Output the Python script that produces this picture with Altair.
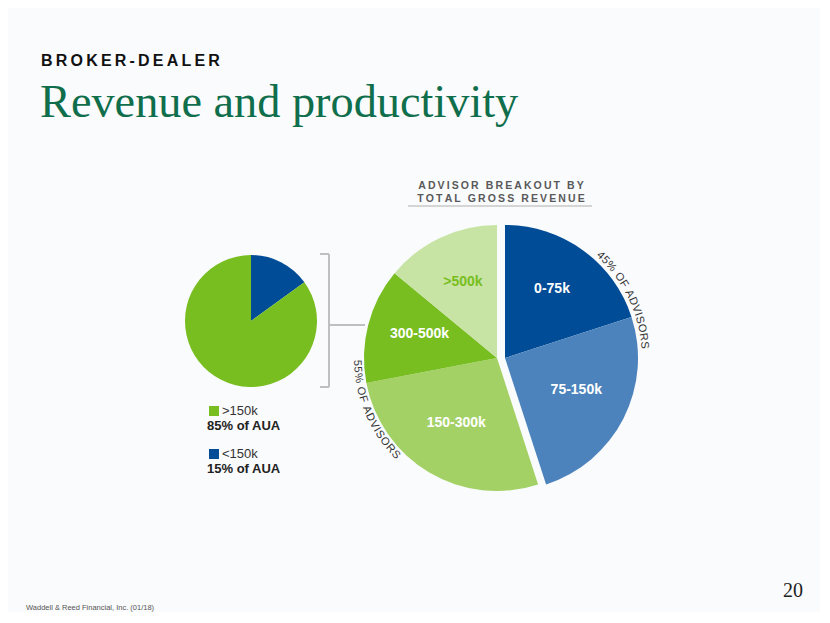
import math
import altair as alt
import pandas as pd

# ---------------- data ----------------
segments = ["0-75k", "75-150k", "150-300k", "300-500k", ">500k"]
advisor_share = [20, 25, 27, 14, 14]
revenue_group = ["<150k", "<150k", ">150k", ">150k", ">150k"]

aua_groups = ["<150k", ">150k"]
aua_share = [15, 85]

# ---------------- styles ----------------
seg_colors = ["#004C97", "#4C83BC", "#A3D165", "#78BE20", "#C8E4A5"]
aua_colors = ["#004C97", "#78BE20"]
SANS = "Liberation Sans"
SERIF = "Liberation Serif"
OX, OY = 8, 8


def px(x):
    return x - OX


def py(y):
    return y - OY


one = alt.Data(values=[{"k": 0}])


def label(text, x, y, size, weight="normal", color="#333333", font=SANS,
          align="left", baseline="middle"):
    return alt.Chart(one).mark_text(
        text=text, font=font, fontSize=size, fontWeight=weight, color=color,
        align=align, baseline=baseline
    ).encode(x=alt.value(px(x)), y=alt.value(py(y)))


def line(x1, y1, x2, y2, color="#BFBFBF", width=2):
    return alt.Chart(one).mark_rule(color=color, strokeWidth=width).encode(
        x=alt.value(px(x1)), y=alt.value(py(y1)),
        x2=alt.value(px(x2)), y2=alt.value(py(y2)))


def spaced(s):
    return "\u2009".join(list(s))


def stacked(df):
    return alt.Chart(df).transform_window(
        cum="sum(share)", sort=[alt.SortField("order")], frame=[None, 0]
    ).transform_joinaggregate(total="sum(share)").transform_calculate(
        t0="(datum.cum - datum.share) / datum.total * 2 * PI",
        t1="datum.cum / datum.total * 2 * PI",
        tm="(datum.cum - datum.share / 2) / datum.total * 2 * PI",
    )


seg_df = pd.DataFrame({"segment": segments, "share": advisor_share,
                       "group": revenue_group, "order": list(range(len(segments)))})
aua_df = pd.DataFrame({"group": aua_groups, "share": aua_share, "order": [0, 1]})

seg_color = alt.Color("segment:N", scale=alt.Scale(domain=segments, range=seg_colors), legend=None)

R_BIG = 133
layers = []
centers = {"<150k": (505, 358), ">150k": (497, 358)}
for grp, (cx, cy) in centers.items():
    base = stacked(seg_df).transform_filter(alt.datum.group == grp)
    layers.append(base.mark_arc(radius=R_BIG).encode(
        theta=alt.Theta("t0:Q", scale=None, stack=False), theta2="t1:Q",
        color=seg_color, x=alt.value(px(cx)), y=alt.value(py(cy))))
    layers.append(base.mark_text(radius=80, dy=-4, font=SANS, fontSize=14, fontWeight="bold",
                                 align="center", baseline="middle").encode(
        theta=alt.Theta("tm:Q", scale=None, stack=False),
        text="segment:N",
        color=alt.condition(alt.datum.segment == ">500k", alt.value("#78BE20"), alt.value("white")),
        x=alt.value(px(cx)), y=alt.value(py(cy))))

# curved group labels
CW = {"0": .556, "1": .556, "2": .556, "3": .556, "4": .556, "5": .556, "6": .556,
      "7": .556, "8": .556, "9": .556, "%": .889, " ": .278, "O": .778, "F": .611,
      "A": .667, "D": .722, "V": .667, "I": .278, "S": .667, "R": .722}


def arc_chars(text, start_deg, direction, r, size, spacing):
    rows = []
    pos = 0.0
    centers_ = []
    for i, ch in enumerate(text):
        w = CW.get(ch, .6) * size
        centers_.append(pos + w / 2)
        pos += w + spacing
    for ch, c in zip(text, centers_):
        deg = start_deg + direction * math.degrees((c - centers_[0]) / r)
        rot = deg if direction > 0 else deg - 180
        rows.append({"ch": ch, "t": math.radians(deg), "rot": rot})
    return pd.DataFrame(rows)


blue_pct = sum(s for s, g in zip(advisor_share, revenue_group) if g == "<150k")
green_pct = sum(s for s, g in zip(advisor_share, revenue_group) if g == ">150k")
curved = [
    (f"{blue_pct}% OF ADVISORS", 43, 1, centers["<150k"]),
    (f"{green_pct}% OF ADVISORS", 268, -1, centers[">150k"]),
]
for text, start, d, (cx, cy) in curved:
    df = arc_chars(text, start, d, 140, 11, 0.6)
    layers.append(alt.Chart(df).mark_text(radius=140, font=SANS, fontSize=11, color="#333333",
                                           align="center", baseline="middle").encode(
        text="ch:N", theta=alt.Theta("t:Q", scale=None, stack=False),
        angle=alt.Angle("rot:Q", scale=None),
        x=alt.value(px(cx)), y=alt.value(py(cy))))

# small AUA pie
aua_base = stacked(aua_df)
layers.append(aua_base.mark_arc(radius=66).encode(
    theta=alt.Theta("t0:Q", scale=None, stack=False), theta2="t1:Q",
    color=alt.Color("group:N", scale=alt.Scale(domain=aua_groups, range=aua_colors), legend=None),
    x=alt.value(px(251)), y=alt.value(py(321))))

# bracket
layers += [
    line(329, 254, 329, 387),
    line(320, 254, 329, 254),
    line(320, 387, 329, 387),
    line(329, 325, 365, 325),
]

# legend
for i, (grp, share, col) in enumerate([(aua_groups[1], aua_share[1], aua_colors[1]),
                                        (aua_groups[0], aua_share[0], aua_colors[0])]):
    y0 = 411 + i * 43
    layers.append(alt.Chart(one).mark_square(size=100, filled=True, color=col, opacity=1).encode(
        x=alt.value(px(214)), y=alt.value(py(y0))))
    layers.append(label(grp, 222, y0, 13, color="#333333"))
    layers.append(label(f"{share}% of AUA", 207, y0 + 15, 13, weight="bold", color="#222222"))

# titles
layers += [
    label(spaced("BROKER-DEALER"), 41, 66, 16, weight="bold", color="#111111", baseline="alphabetic"),
    label("Revenue and productivity", 40, 117, 46.3, color="#0F6E4B", font=SERIF, baseline="alphabetic"),
    label(spaced("ADVISOR BREAKOUT BY"), 501, 189, 10.5, weight="bold", color="#595959",
          align="center", baseline="alphabetic"),
    label(spaced("TOTAL GROSS REVENUE"), 501, 202, 10.5, weight="bold", color="#595959",
          align="center", baseline="alphabetic"),
    line(408, 206, 592, 206, color="#C8C8C8", width=1.5),
    label("Waddell & Reed Financial, Inc. (01/18)", 26, 608, 7.5, color="#555555"),
    label("20", 803, 597, 20, color="#222222", font=SERIF, align="right", baseline="alphabetic"),
]

chart = alt.layer(*layers).properties(
    width=812, height=604, background="#FAFBFC", padding=0
).configure_view(stroke=None).resolve_scale(color="independent")

chart.save("out.html", embed_options={"renderer": "svg", "actions": False})
